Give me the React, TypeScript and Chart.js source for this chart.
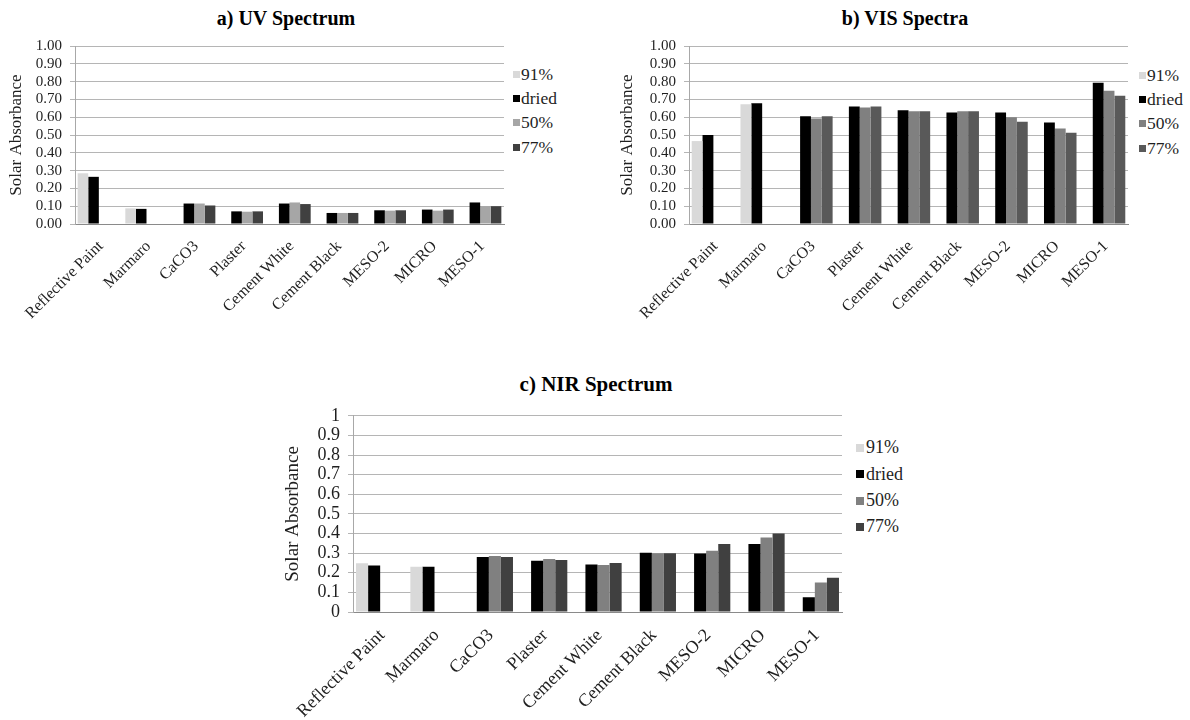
import React, { useEffect, useRef } from "react";
import { Chart, registerables } from "chart.js";

Chart.register(...registerables);

// Samples measured in each spectral band
const materials = [
  "Reflective Paint",
  "Marmaro",
  "CaCO3",
  "Plaster",
  "Cement White",
  "Cement Black",
  "MESO-2",
  "MICRO",
  "MESO-1",
];

// Conditioning states (relative humidity) shown as the four bars of each group
const seriesNames = ["91%", "dried", "50%", "77%"];

// a) UV spectrum
const uv91 = [0.285, 0.088, null, null, null, null, null, null, null];
const uvDried = [0.265, 0.085, 0.115, 0.071, 0.115, 0.062, 0.077, 0.081, 0.121];
const uv50 = [null, null, 0.115, 0.069, 0.121, 0.062, 0.075, 0.075, 0.1];
const uv77 = [null, null, 0.104, 0.071, 0.112, 0.062, 0.077, 0.081, 0.1];

// b) VIS spectra
const vis91 = [0.466, 0.673, null, null, null, null, null, null, null];
const visDried = [0.5, 0.678, 0.606, 0.66, 0.639, 0.626, 0.626, 0.57, 0.794];
const vis50 = [null, null, 0.593, 0.654, 0.634, 0.634, 0.6, 0.536, 0.748];
const vis77 = [null, null, 0.606, 0.66, 0.634, 0.634, 0.574, 0.512, 0.72];

// c) NIR spectrum
const nir91 = [0.249, 0.231, null, null, null, null, null, null, null];
const nirDried = [0.237, 0.231, 0.28, 0.261, 0.242, 0.302, 0.298, 0.347, 0.075];
const nir50 = [null, null, 0.285, 0.27, 0.24, 0.3, 0.312, 0.38, 0.15];
const nir77 = [null, null, 0.28, 0.265, 0.25, 0.3, 0.346, 0.4, 0.175];

// Y-axis tick labels
const ticksTwoDecimals = ["0.00", "0.10", "0.20", "0.30", "0.40", "0.50", "0.60", "0.70", "0.80", "0.90", "1.00"];
const ticksOneDecimal = ["0", "0.1", "0.2", "0.3", "0.4", "0.5", "0.6", "0.7", "0.8", "0.9", "1"];

const SERIF = '"Liberation Serif", "Times New Roman", serif';
const TEXT = "#1f1f1f";

type Rect = { left: number; top: number; right: number; bottom: number };

interface PanelSpec {
  id: string;
  title: string;
  titleX: number;
  titleY: number;
  titleSize: number;
  series: (number | null)[][];
  colors: string[];
  plot: Rect;
  canvasLeft: number;
  canvasTop: number;
  canvasWidth: number;
  canvasHeight: number;
  yTicks: string[];
  tickSize: number;
  xLabelSize: number;
  yTitleSize: number;
  yTitleX: number;
  labelOffset: number;
  legendX: number;
  legendTextX: number;
  legendY: number;
  legendGap: number;
  legendSize: number;
  swatch: number;
}

const panels: PanelSpec[] = [
  {
    id: "uv",
    title: "a) UV Spectrum",
    titleX: 286,
    titleY: 18,
    titleSize: 20,
    series: [uv91, uvDried, uv50, uv77],
    colors: ["#d9d9d9", "#000000", "#a6a6a6", "#404040"],
    plot: { left: 75, top: 45, right: 504, bottom: 224 },
    canvasLeft: 0,
    canvasTop: 29,
    canvasWidth: 512,
    canvasHeight: 300,
    yTicks: ticksTwoDecimals,
    tickSize: 15,
    xLabelSize: 16,
    yTitleSize: 17,
    yTitleX: 17,
    labelOffset: 2,
    legendX: 513,
    legendTextX: 521,
    legendY: 74,
    legendGap: 24.4,
    legendSize: 17.5,
    swatch: 7,
  },
  {
    id: "vis",
    title: "b) VIS Spectra",
    titleX: 905,
    titleY: 18,
    titleSize: 20,
    series: [vis91, visDried, vis50, vis77],
    colors: ["#d9d9d9", "#000000", "#808080", "#595959"],
    plot: { left: 689, top: 45, right: 1128, bottom: 224 },
    canvasLeft: 600,
    canvasTop: 29,
    canvasWidth: 536,
    canvasHeight: 300,
    yTicks: ticksTwoDecimals,
    tickSize: 15,
    xLabelSize: 16,
    yTitleSize: 17,
    yTitleX: 628,
    labelOffset: 2,
    legendX: 1139,
    legendTextX: 1147,
    legendY: 75,
    legendGap: 24.4,
    legendSize: 17.5,
    swatch: 7,
  },
  {
    id: "nir",
    title: "c) NIR Spectrum",
    titleX: 596,
    titleY: 385,
    titleSize: 21,
    series: [nir91, nirDried, nir50, nir77],
    colors: ["#d9d9d9", "#000000", "#808080", "#404040"],
    plot: { left: 353, top: 413, right: 842, bottom: 612 },
    canvasLeft: 270,
    canvasTop: 397,
    canvasWidth: 580,
    canvasHeight: 323,
    yTicks: ticksOneDecimal,
    tickSize: 18,
    xLabelSize: 18,
    yTitleSize: 19,
    yTitleX: 293,
    labelOffset: 2,
    legendX: 856,
    legendTextX: 866,
    legendY: 448,
    legendGap: 26.3,
    legendSize: 18,
    swatch: 8,
  },
];

function BarPanel({ spec }: { spec: PanelSpec }) {
  const ref = useRef<HTMLCanvasElement>(null);

  useEffect(() => {
    const s = spec;
    const padTop = s.plot.top - s.canvasTop;
    const padRight = s.canvasLeft + s.canvasWidth - s.plot.right;
    const yAxisWidth = s.plot.left - s.canvasLeft;
    const plotHeight = s.plot.bottom - s.plot.top;
    const xAxisHeight = s.canvasHeight - padTop - plotHeight;
    const yTitleLine = s.yTitleSize * 1.2;

    const chart = new Chart(ref.current as HTMLCanvasElement, {
      type: "bar",
      data: {
        labels: materials,
        datasets: seriesNames.map((name, i) => ({
          label: name,
          data: s.series[i],
          backgroundColor: s.colors[i],
          borderWidth: 0,
        })),
      },
      options: {
        animation: false,
        responsive: false,
        datasets: { bar: { categoryPercentage: 4 / 4.5, barPercentage: 1 } },
        layout: { padding: { top: padTop, right: padRight, left: 0, bottom: 0 } },
        plugins: {
          legend: { display: false },
          tooltip: { enabled: false },
          title: { display: false },
        },
        scales: {
          x: {
            grid: { display: false },
            border: { display: true, color: "#8a8a8a", width: 1 },
            ticks: {
              autoSkip: false,
              minRotation: 45,
              maxRotation: 45,
              padding: 5,
              labelOffset: s.labelOffset,
              color: TEXT,
              font: { family: SERIF, size: s.xLabelSize },
            },
            afterFit: (scale: any) => {
              scale.height = xAxisHeight;
            },
          },
          y: {
            min: 0,
            max: 1,
            ticks: {
              stepSize: 0.1,
              autoSkip: false,
              padding: 8,
              color: TEXT,
              font: { family: SERIF, size: s.tickSize },
              callback: (_v: any, i: number) => s.yTicks[i],
            },
            grid: { color: "#b5b5b5", lineWidth: 1, tickLength: 5 },
            border: { display: true, color: "#a8a8a8", width: 1 },
            title: {
              display: true,
              text: "Solar Absorbance",
              color: TEXT,
              font: { family: SERIF, size: s.yTitleSize },
              padding: { top: s.yTitleX - s.canvasLeft - yTitleLine / 2, bottom: 0 },
            },
            afterFit: (scale: any) => {
              scale.width = yAxisWidth;
            },
          },
        },
      },
    } as any);

    return () => chart.destroy();
  }, [spec]);

  const legendLine = spec.legendSize * 1.2;

  return (
    <>
      <div
        style={{
          position: "absolute",
          left: spec.titleX,
          top: spec.titleY - (spec.titleSize * 1.2) / 2,
          transform: "translateX(-50%)",
          fontFamily: SERIF,
          fontWeight: "bold",
          fontSize: spec.titleSize,
          lineHeight: 1.2,
          color: "#000",
          whiteSpace: "nowrap",
        }}
      >
        {spec.title}
      </div>
      <canvas
        ref={ref}
        width={spec.canvasWidth}
        height={spec.canvasHeight}
        style={{
          position: "absolute",
          left: spec.canvasLeft,
          top: spec.canvasTop,
          width: spec.canvasWidth,
          height: spec.canvasHeight,
        }}
      />
      {seriesNames.map((name, i) => {
        const cy = spec.legendY + i * spec.legendGap;
        return (
          <React.Fragment key={name}>
            <div
              style={{
                position: "absolute",
                left: spec.legendX,
                top: cy - spec.swatch / 2,
                width: spec.swatch,
                height: spec.swatch,
                background: spec.colors[i],
              }}
            />
            <div
              style={{
                position: "absolute",
                left: spec.legendTextX,
                top: cy - legendLine / 2,
                height: legendLine,
                lineHeight: `${legendLine}px`,
                fontFamily: SERIF,
                fontSize: spec.legendSize,
                color: TEXT,
                whiteSpace: "nowrap",
              }}
            >
              {name}
            </div>
          </React.Fragment>
        );
      })}
    </>
  );
}

export default function App() {
  return (
    <div
      style={{
        position: "absolute",
        left: 0,
        top: 0,
        width: 1190,
        height: 720,
        background: "#ffffff",
        overflow: "hidden",
      }}
    >
      {panels.map((p) => (
        <BarPanel key={p.id} spec={p} />
      ))}
    </div>
  );
}
